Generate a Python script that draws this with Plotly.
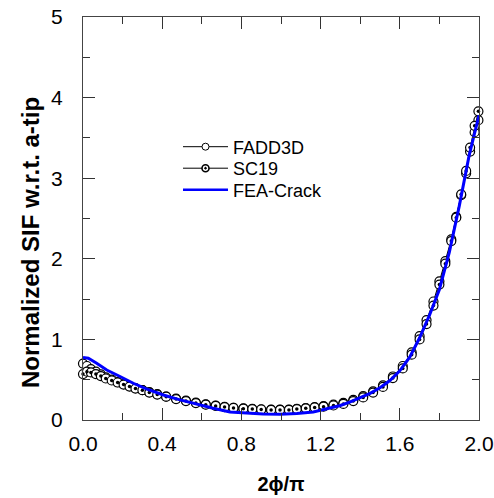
import plotly.graph_objects as go

# Normalized stress intensity factor along the crack front (a-tip), three solutions
x_fadd3d = [0.0, 0.02, 0.04, 0.065, 0.09, 0.115, 0.145, 0.175, 0.205, 0.235, 0.265, 0.30,
            0.335, 0.375, 0.42, 0.47, 0.52, 0.57, 0.62, 0.67, 0.715, 0.76, 0.81, 0.855,
            0.90, 0.95, 0.995, 1.04, 1.08, 1.125, 1.17, 1.215, 1.265, 1.315, 1.365, 1.415,
            1.465, 1.515, 1.565, 1.615, 1.66, 1.70, 1.735, 1.77, 1.80, 1.83, 1.86, 1.885,
            1.91, 1.935, 1.955, 1.978, 1.997]
y_fadd3d = [0.70, 0.67, 0.63, 0.60, 0.565, 0.53, 0.50, 0.47, 0.445, 0.42, 0.395, 0.37,
            0.345, 0.32, 0.29, 0.265, 0.24, 0.215, 0.195, 0.178, 0.163, 0.152, 0.143, 0.137,
            0.132, 0.128, 0.128, 0.13, 0.138, 0.148, 0.16, 0.172, 0.19, 0.213, 0.25, 0.295,
            0.355, 0.43, 0.54, 0.67, 0.84, 1.04, 1.24, 1.47, 1.72, 1.97, 2.24, 2.52,
            2.79, 3.06, 3.33, 3.57, 3.72]

x_sc19 = x_fadd3d
y_sc19 = [0.57, 0.60, 0.59, 0.57, 0.545, 0.515, 0.49, 0.465, 0.44, 0.415, 0.39, 0.37,
          0.34, 0.315, 0.29, 0.26, 0.235, 0.21, 0.19, 0.175, 0.16, 0.15, 0.14, 0.135,
          0.13, 0.125, 0.125, 0.125, 0.135, 0.145, 0.155, 0.165, 0.18, 0.20, 0.235, 0.28,
          0.34, 0.41, 0.52, 0.64, 0.81, 1.0, 1.19, 1.42, 1.68, 1.94, 2.22, 2.51,
          2.80, 3.09, 3.38, 3.65, 3.83]

x_fea = [0.0, 0.027, 0.069, 0.12, 0.187, 0.254, 0.32, 0.406, 0.49, 0.574, 0.658, 0.742,
         0.827, 0.91, 0.995, 1.08, 1.163, 1.247, 1.30, 1.35, 1.40, 1.45, 1.50, 1.55,
         1.60, 1.65, 1.70, 1.75, 1.80, 1.85, 1.90, 1.95, 2.0]
y_fea = [0.775, 0.767, 0.705, 0.62, 0.54, 0.456, 0.385, 0.31, 0.25, 0.195, 0.145, 0.10,
         0.083, 0.075, 0.07, 0.08, 0.10, 0.145, 0.18, 0.225, 0.275, 0.33, 0.40, 0.49,
         0.61, 0.78, 1.02, 1.30, 1.62, 2.08, 2.65, 3.28, 3.78]

x_ticks = [0.0, 0.4, 0.8, 1.2, 1.6, 2.0]
y_ticks = [0, 1, 2, 3, 4, 5]

FONT = "Liberation Sans, Arial, sans-serif"
W, H = 494, 498
L, R, T, B = 83, 15, 17, 78

fig = go.Figure()

# data traces (legend drawn by separate entries with smaller symbols)
fig.add_trace(go.Scatter(
    x=x_fadd3d, y=y_fadd3d, mode="lines+markers", showlegend=False,
    line=dict(color="black", width=1),
    marker=dict(symbol="circle", size=9, color="white", line=dict(color="black", width=1.2)),
    cliponaxis=False,
))
fig.add_trace(go.Scatter(
    x=x_sc19, y=y_sc19, mode="lines+markers", showlegend=False,
    line=dict(color="black", width=1),
    marker=dict(symbol="circle", size=9, color="white", line=dict(color="black", width=1.2)),
    cliponaxis=False,
))
fig.add_trace(go.Scatter(
    x=x_sc19, y=y_sc19, mode="markers", showlegend=False,
    marker=dict(symbol="circle", size=3.5, color="black", line=dict(width=0)),
    cliponaxis=False,
))
fig.add_trace(go.Scatter(
    x=x_fea, y=y_fea, mode="lines", showlegend=False,
    line=dict(color="#0000ff", width=3),
    cliponaxis=False,
))

# legend entries, one legend box per row so the rows sit at fixed heights
fig.add_trace(go.Scatter(
    x=[None], y=[None], mode="lines+markers", name="FADD3D", legend="legend",
    line=dict(color="black", width=1),
    marker=dict(symbol="circle", size=7, color="white", line=dict(color="black", width=1)),
))
fig.add_trace(go.Scatter(
    x=[None], y=[None], mode="lines+markers", name="SC19", legend="legend2",
    line=dict(color="black", width=1),
    marker=dict(symbol="circle-dot", size=7, color="white", line=dict(color="black", width=1.6)),
))
fig.add_trace(go.Scatter(
    x=[None], y=[None], mode="lines", name="FEA-Crack", legend="legend3",
    line=dict(color="#0000ff", width=2.5),
))

axis_common = dict(
    showline=True, linecolor="#444444", linewidth=1, mirror="allticks",
    ticks="inside", tickcolor="#333333", ticklen=12, tickwidth=1,
    showgrid=False, zeroline=False,
    tickfont=dict(family=FONT, size=21, color="black"),
)

fig.update_xaxes(
    range=[0, 2], tickvals=x_ticks, ticktext=[f"{v:.1f}" for v in x_ticks],
    minor=dict(dtick=0.2, ticks="inside", ticklen=7, tickcolor="#333333", tick0=0),
    ticklabelstandoff=5,
    title=dict(text="<b>2\u03d5/\u03c0</b>", font=dict(family=FONT, size=20, color="black"),
               standoff=22),
    **axis_common,
)
fig.update_yaxes(
    range=[0, 5], tickvals=y_ticks, ticktext=[str(v) for v in y_ticks],
    minor=dict(dtick=0.5, ticks="inside", ticklen=7, tickcolor="#333333", tick0=0),
    ticklabelstandoff=15,
    **axis_common,
)

# y-axis title placed as a rotated annotation
fig.add_annotation(
    text="<b>Normalized SIF w.r.t. a-tip</b>", textangle=-90,
    xref="paper", yref="paper",
    x=(31 - L) / (W - L - R), y=1 - (243 - T) / (H - T - B),
    xanchor="center", yanchor="middle", showarrow=False,
    font=dict(family=FONT, size=24, color="black"),
)


def legend_row(ypix):
    return dict(
        x=(178 - L) / (W - L - R), y=1 - (ypix - T) / (H - T - B),
        xanchor="left", yanchor="middle",
        bgcolor="rgba(0,0,0,0)", borderwidth=0,
        font=dict(family=FONT, size=18, color="black"),
        itemwidth=45,
    )


fig.update_layout(
    width=W, height=H,
    margin=dict(l=L, r=R, t=T, b=B, autoexpand=False),
    paper_bgcolor="white", plot_bgcolor="white",
    showlegend=True,
    legend=legend_row(147),
    legend2=legend_row(168.5),
    legend3=legend_row(190),
)

fig.write_html("out.html")
